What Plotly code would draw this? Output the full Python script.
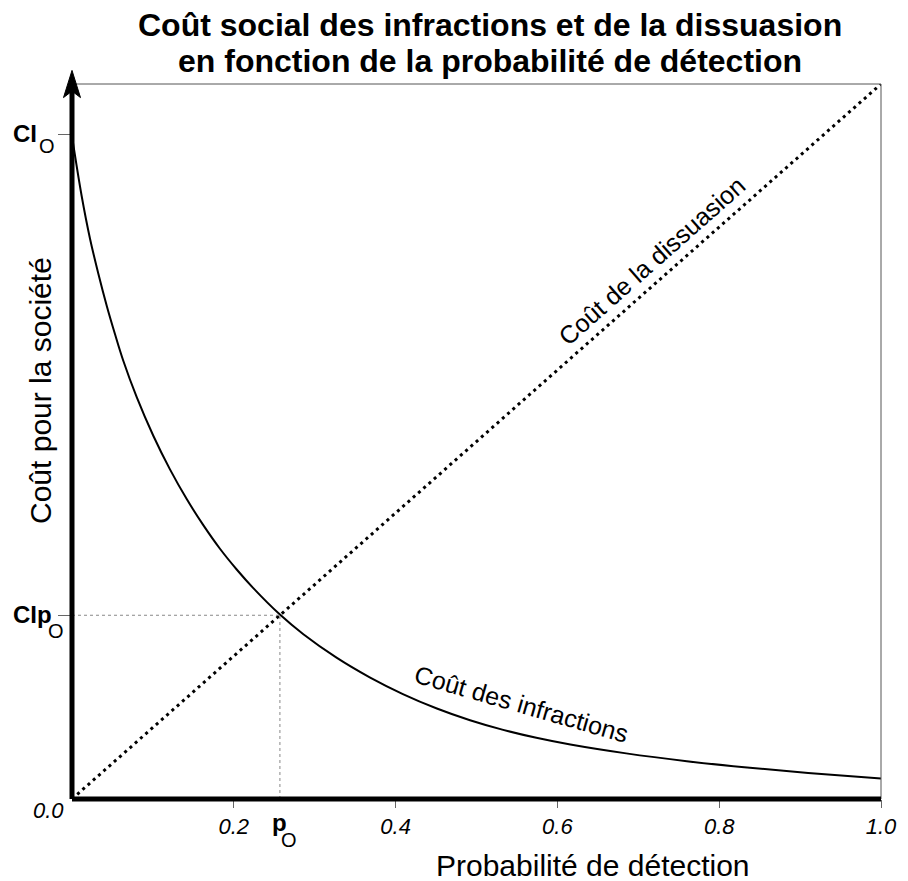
import plotly.graph_objects as go

# Data
p_infr = [0.0, 0.012, 0.0222, 0.0325, 0.0429, 0.0532, 0.0634, 0.080, 0.1005, 0.1211, 0.1418, 0.1623,
          0.1829, 0.2036, 0.2241, 0.257, 0.286, 0.327, 0.368, 0.409, 0.451, 0.492, 0.533, 0.574,
          0.616, 0.685, 0.760, 0.831, 0.910, 1.0]
cost_infr = [0.927, 0.843, 0.784, 0.735, 0.690, 0.650, 0.613, 0.562, 0.508, 0.461, 0.4195, 0.383,
             0.350, 0.321, 0.295, 0.258, 0.2305, 0.1977, 0.1702, 0.1468, 0.1266, 0.1102, 0.0967, 0.0856,
             0.0762, 0.0638, 0.0529, 0.0444, 0.0365, 0.0285]
p_diss = [0.0, 1.0]
cost_diss = [0.0, 1.0]
p_o = 0.257
ci_o = 0.929
cip_o = 0.257
x_ticks = [0.2, 0.4, 0.6, 0.8, 1.0]
x_tick_text = ["0.2", "0.4", "0.6", "0.8", "1.0"]

FONT = "Liberation Sans, Arial, sans-serif"

# plot area in screen pixels (page has 8px body margin)
PL, PR, PT, PB = 72, 881, 84, 799


def px(xp):
    return (xp - PL) / (PR - PL)


def py(yp):
    return (PB - yp) / (PB - PT)


fig = go.Figure()
fig.add_trace(go.Scatter(x=p_infr, y=cost_infr, mode="lines",
                         line=dict(color="black", width=2, shape="spline", smoothing=1.0),
                         hoverinfo="skip", showlegend=False))
fig.add_trace(go.Scatter(x=p_diss, y=cost_diss, mode="lines",
                         line=dict(color="black", width=3, dash="3px,4px"),
                         hoverinfo="skip", showlegend=False))

shapes = []
# guide lines
shapes.append(dict(type="line", xref="x", yref="y", x0=0, x1=p_o, y0=cip_o, y1=cip_o,
                   line=dict(color="#888", width=1, dash="dot")))
shapes.append(dict(type="line", xref="x", yref="y", x0=p_o, x1=p_o, y0=0, y1=cip_o,
                   line=dict(color="#888", width=1, dash="dot")))
# frame top & right
shapes.append(dict(type="line", xref="paper", yref="paper", x0=0, x1=1, y0=1, y1=1,
                   line=dict(color="#555", width=1)))
shapes.append(dict(type="line", xref="paper", yref="paper", x0=1, x1=1, y0=0, y1=1,
                   line=dict(color="#555", width=1)))
# thick axes
shapes.append(dict(type="line", xref="paper", yref="paper", x0=0, x1=1, y0=0, y1=0,
                   line=dict(color="black", width=5)))
shapes.append(dict(type="line", xref="paper", yref="paper", x0=0, x1=0, y0=0, y1=0.99,
                   line=dict(color="black", width=5)))
# arrow head
shapes.append(dict(type="path", xref="paper", yref="paper",
                   path="M 0 1.019 L 0.0105 0.981 L 0 0.990 L -0.0105 0.981 Z",
                   fillcolor="black", line=dict(color="black", width=1)))


def label(text, x, y, size, xanchor="left", **kw):
    return dict(text=text, xref="paper", yref="paper", x=x, y=y, xanchor=xanchor, yanchor="middle",
                showarrow=False, font=dict(size=size, color="black", family=FONT), **kw)


annotations = [
    label("<b>Coût social des infractions et de la dissuasion</b>", px(490), py(25), 32, "center"),
    label("<b>en fonction de la probabilité de détection</b>", px(490), py(61), 32, "center"),
    label("Probabilité de détection", px(593), py(865), 30, "center"),
    label("Coût pour la société", px(40), py(391), 30, "center", textangle=-90),
    dict(text="Coût de la dissuasion", xref="x", yref="y", x=0.716, y=0.753, textangle=-41.5,
         showarrow=False, font=dict(size=25, color="black", family=FONT)),
    dict(text="Coût des infractions", xref="x", yref="y", x=0.556, y=0.133, textangle=16,
         showarrow=False, font=dict(size=25, color="black", family=FONT)),
    label("<i>0.0</i>", px(66), py(810), 22, "right"),
    # y labels
    label("<b>CI</b>", px(11), py(133.6), 24),
    label("O", px(37), py(146), 20),
    label("<b>CIp</b>", px(11), py(614.3), 24),
    label("O", px(46), py(631), 20),
    # p_O label
    label("<b>p</b>", px(279.5), py(822.6), 24, "center"),
    label("O", px(288.5), py(839.7), 20, "center"),
]

fig.update_layout(
    width=908, height=881,
    margin=dict(l=64, r=35, t=76, b=90),
    paper_bgcolor="white", plot_bgcolor="white",
    shapes=shapes, annotations=annotations,
    xaxis=dict(range=[0, 1], showgrid=False, zeroline=False, showline=False, automargin=False,
               tickvals=x_ticks, ticktext=x_tick_text, ticks="outside", ticklen=8,
               tickcolor="#666", tickwidth=1,
               tickfont=dict(size=22, color="black", family=FONT, style="italic")),
    yaxis=dict(range=[0, 1], showgrid=False, zeroline=False, showline=False, automargin=False,
               tickvals=[ci_o, cip_o], showticklabels=False,
               ticks="outside", ticklen=13, tickcolor="#666", tickwidth=1),
)

fig.write_html("out.html")
